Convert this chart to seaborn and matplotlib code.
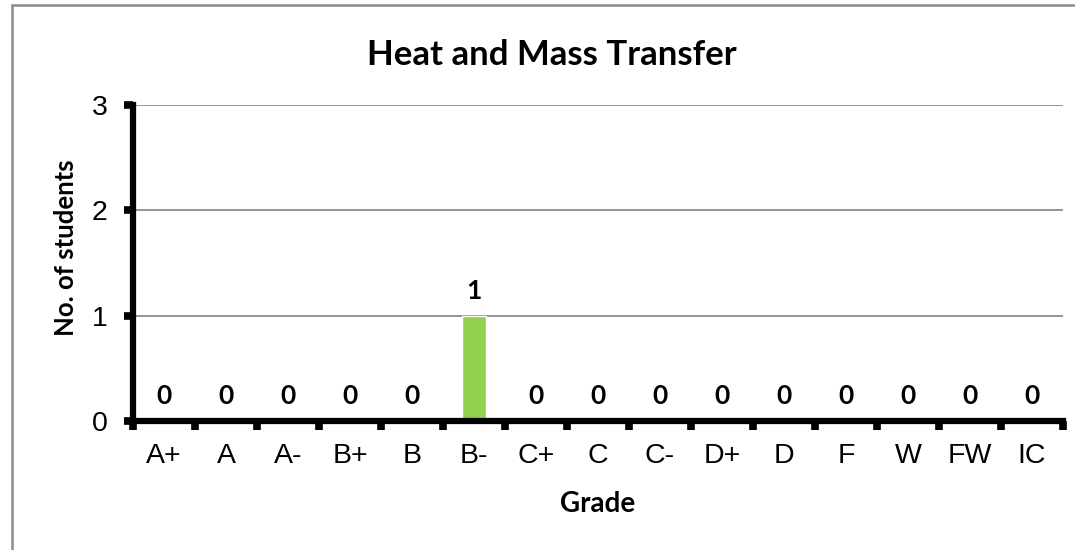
# Grade distribution bar chart for one course
import seaborn as sns
import matplotlib.pyplot as plt
import pandas as pd
from matplotlib.patches import Rectangle
from matplotlib.ticker import FixedLocator

grades = ["A+", "A", "A-", "B+", "B", "B-", "C+", "C", "C-", "D+", "D", "F", "W", "FW", "IC"]
students = [0, 0, 0, 0, 0, 1, 0, 0, 0, 0, 0, 0, 0, 0, 0]
y_ticks = [0, 1, 2, 3]

df = pd.DataFrame({"Grade": grades, "Students": students})

sns.set_style("white", rc={"text.color": "black", "axes.labelcolor": "black",
                           "xtick.color": "black", "ytick.color": "black"})
plt.rcParams['font.family'] = ['Liberation Sans', 'DejaVu Sans']
bold_font = ["Lato", "DejaVu Sans"]

fig = plt.figure(figsize=(10.75, 5.5), dpi=100)
ax = fig.add_axes([133 / 1075, 1 - 421 / 550, (1063 - 133) / 1075, (421 - 105) / 550])

sns.barplot(data=df, x="Grade", y="Students", color="#92D050", width=0.4,
            saturation=1, ax=ax, zorder=3)

ax.set_ylim(0, 3)
ax.set_xlim(-0.5, len(grades) - 0.5)
ax.set_yticks(y_ticks)
ax.yaxis.grid(True, color="#8c8c8c", linewidth=1.3, zorder=0)
ax.xaxis.grid(False)
ax.set_axisbelow(True)

for side in ["top", "right"]:
    ax.spines[side].set_visible(False)
for side in ["left", "bottom"]:
    ax.spines[side].set_color("black")
    ax.spines[side].set_linewidth(4.5)
    ax.spines[side].set_zorder(4)

# ticks sit between categories on x
ax.tick_params(which="both", bottom=True, left=True)
ax.xaxis.set_minor_locator(FixedLocator([i - 0.5 for i in range(len(grades) + 1)]))
ax.tick_params(axis="x", which="major", length=0, pad=16, labelsize=20.5, labelcolor="black")
ax.tick_params(axis="x", which="minor", direction="out", length=6.5, width=5.5, color="black")
ax.tick_params(axis="y", which="major", direction="out", length=6.5, width=5.5,
               color="black", labelsize=20.5, pad=12, labelcolor="black")

ax.bar_label(ax.containers[0], fontweight="bold", fontsize=19, padding=9,
             family=bold_font, color="black")

ax.set_xlabel("Grade", fontsize=20, fontweight="bold", family=bold_font, labelpad=16,
              color="black")
ax.set_ylabel("No. of students", fontsize=18.5, fontweight="bold", family=bold_font,
              labelpad=10, color="black")
ax.yaxis.label.set_y((421 - 248) / 316)
fig.text(552 / 1075, 1 - 55 / 550, "Heat and Mass Transfer", ha="center", va="center",
         fontsize=25, fontweight="bold", family=bold_font, color="black")

# chart frame
fig.patches.append(Rectangle((12 / 1075, -0.1), 1.2, 1 - 5 / 550 + 0.1,
                             transform=fig.transFigure, fill=False,
                             edgecolor="#8c8c8c", linewidth=1.8))

fig.savefig("out.png", dpi=100)
